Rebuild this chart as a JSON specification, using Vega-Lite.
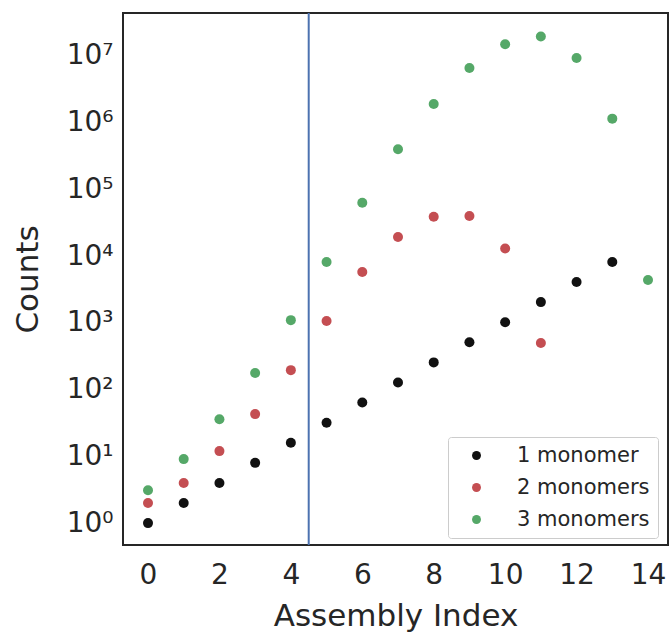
{
  "$schema": "https://vega.github.io/schema/vega-lite/v6.json",
  "autosize": "none",
  "width": 545,
  "height": 532,
  "padding": {"left": 123, "top": 13, "right": 2, "bottom": 87},
  "background": "white",
  "config": {
    "font": "DejaVu Sans",
    "view": {"stroke": "#262626", "strokeWidth": 2},
    "axis": {"domain": false, "grid": false, "ticks": false, "labelColor": "#262626", "titleColor": "#262626", "labelFontSize": 28, "titleFontSize": 31, "titleFontWeight": "normal", "labelFont": "DejaVu Sans", "titleFont": "DejaVu Sans"}
  },
  "datasets": {
    "points": [
      {"index": 0, "series": "1 monomer", "count": 1},
      {"index": 1, "series": "1 monomer", "count": 2},
      {"index": 2, "series": "1 monomer", "count": 4},
      {"index": 3, "series": "1 monomer", "count": 8},
      {"index": 4, "series": "1 monomer", "count": 16},
      {"index": 5, "series": "1 monomer", "count": 32},
      {"index": 6, "series": "1 monomer", "count": 64},
      {"index": 7, "series": "1 monomer", "count": 128},
      {"index": 8, "series": "1 monomer", "count": 256},
      {"index": 9, "series": "1 monomer", "count": 512},
      {"index": 10, "series": "1 monomer", "count": 1024},
      {"index": 11, "series": "1 monomer", "count": 2048},
      {"index": 12, "series": "1 monomer", "count": 4096},
      {"index": 13, "series": "1 monomer", "count": 8192},
      {"index": 0, "series": "2 monomers", "count": 2},
      {"index": 1, "series": "2 monomers", "count": 4},
      {"index": 2, "series": "2 monomers", "count": 12},
      {"index": 3, "series": "2 monomers", "count": 43},
      {"index": 4, "series": "2 monomers", "count": 196},
      {"index": 5, "series": "2 monomers", "count": 1070},
      {"index": 6, "series": "2 monomers", "count": 5800},
      {"index": 7, "series": "2 monomers", "count": 19400},
      {"index": 8, "series": "2 monomers", "count": 39000},
      {"index": 9, "series": "2 monomers", "count": 40000},
      {"index": 10, "series": "2 monomers", "count": 13000},
      {"index": 11, "series": "2 monomers", "count": 500},
      {"index": 0, "series": "3 monomers", "count": 3.1},
      {"index": 1, "series": "3 monomers", "count": 9.1},
      {"index": 2, "series": "3 monomers", "count": 36},
      {"index": 3, "series": "3 monomers", "count": 178},
      {"index": 4, "series": "3 monomers", "count": 1100},
      {"index": 5, "series": "3 monomers", "count": 8200},
      {"index": 6, "series": "3 monomers", "count": 63000},
      {"index": 7, "series": "3 monomers", "count": 400000},
      {"index": 8, "series": "3 monomers", "count": 1900000},
      {"index": 9, "series": "3 monomers", "count": 6600000},
      {"index": 10, "series": "3 monomers", "count": 15000000},
      {"index": 11, "series": "3 monomers", "count": 19500000},
      {"index": 12, "series": "3 monomers", "count": 9300000},
      {"index": 13, "series": "3 monomers", "count": 1150000},
      {"index": 14, "series": "3 monomers", "count": 4400}
    ],
    "cut": [{"index": 4.5}]
  },
  "layer": [
    {
      "data": {"name": "cut"},
      "mark": {"type": "rule", "color": "#4c72b0", "strokeWidth": 2},
      "encoding": {
        "x": {"field": "index", "type": "quantitative", "scale": {"domain": [-0.7, 14.56], "nice": false, "zero": false}}
      }
    },
    {
      "data": {"name": "points"},
      "mark": {"type": "point", "filled": true, "opacity": 1, "size": 100},
      "encoding": {
        "x": {"field": "index", "type": "quantitative", "title": "Assembly Index",
          "scale": {"domain": [-0.7, 14.56], "nice": false, "zero": false},
          "axis": {"values": [0, 2, 4, 6, 8, 10, 12, 14], "labelPadding": 16, "titlePadding": 12}},
        "y": {"field": "count", "type": "quantitative", "title": "Counts",
          "scale": {"type": "log", "domain": [0.47, 44000000], "nice": false},
          "axis": {"values": [1, 10, 100, 1000, 10000, 100000, 1000000, 10000000], "labelPadding": 10, "titlePadding": 22,
            "labelExpr": "'10' + ['⁰','¹','²','³','⁴','⁵','⁶','⁷'][round(log(datum.value)/LN10)]"}},
        "color": {"field": "series", "type": "nominal",
          "scale": {"domain": ["1 monomer", "2 monomers", "3 monomers"], "range": ["#111111", "#c44e52", "#55a868"]},
          "legend": {"title": null, "orient": "none", "legendX": 325, "legendY": 424,
            "labelFontSize": 21, "labelColor": "#262626", "symbolSize": 80, "symbolType": "circle",
            "symbolOffset": 10, "labelOffset": 30, "rowPadding": 10, "padding": 8,
            "strokeColor": "#cccccc", "cornerRadius": 3, "fillColor": "white"}}
      }
    }
  ]
}
